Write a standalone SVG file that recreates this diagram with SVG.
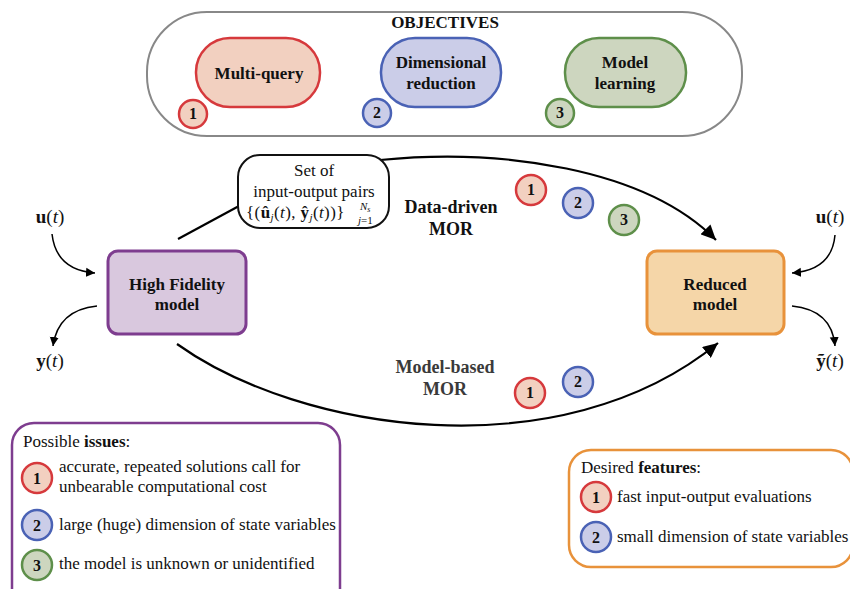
<svg xmlns="http://www.w3.org/2000/svg" width="850" height="589" viewBox="0 0 850 589" font-family="'Liberation Serif', 'DejaVu Serif', serif">
<style>
text{font-family:'Liberation Serif','DejaVu Serif',serif;fill:#111}
.b{font-weight:bold}
.lbl{font-size:17px;font-weight:bold;text-anchor:middle}
.mor{font-size:18px;font-weight:bold;text-anchor:middle}
.num{font-size:16px;font-weight:bold;text-anchor:middle}
.body{font-size:17px}
.conn{fill:none;stroke:#000;stroke-width:2.2}
.small{fill:none;stroke:#000;stroke-width:1.5}
.red{fill:#f2d0c0;stroke:#d6393c;stroke-width:2.5}
.blue{fill:#cbcde8;stroke:#4a62b5;stroke-width:2.5}
.green{fill:#cdd6bf;stroke:#5e8f4a;stroke-width:2.5}
.math{font-size:19px}
</style>
<defs>
<marker id="ah" markerUnits="userSpaceOnUse" markerWidth="16" markerHeight="14" refX="15" refY="7" orient="auto">
<path d="M0,0 L15,7 L0,14 Z" fill="#000"/>
</marker>
<marker id="sh" markerUnits="userSpaceOnUse" markerWidth="10" markerHeight="10" refX="9" refY="5" orient="auto">
<path d="M0,0.5 L9,5 L0,9.5 Z" fill="#000"/>
</marker>
</defs>

<g id="objectives">
<rect x="147" y="12" width="595" height="124" rx="60" fill="#fff" stroke="#888" stroke-width="2"/>
<text x="445" y="28" class="b" font-size="17" text-anchor="middle">OBJECTIVES</text>
</g>
<g id="obj-multiquery">
<rect x="196" y="38" width="124" height="69" rx="34" class="red"/>
<text x="259" y="79" class="lbl">Multi-query</text>
<circle cx="193" cy="114" r="14" class="red"/>
<text x="193" y="119" class="num">1</text>
</g>
<g id="obj-dimred">
<rect x="381" y="38" width="120" height="69" rx="34" class="blue"/>
<text x="441" y="68" class="lbl">Dimensional</text>
<text x="441" y="89" class="lbl">reduction</text>
<circle cx="377" cy="113" r="14" class="blue"/>
<text x="377" y="118" class="num">2</text>
</g>
<g id="obj-learning">
<rect x="565" y="38" width="121" height="69" rx="34" class="green"/>
<text x="625" y="68" class="lbl">Model</text>
<text x="625" y="89" class="lbl">learning</text>
<circle cx="560" cy="113" r="14" class="green"/>
<text x="560" y="118" class="num">3</text>
</g>

<g id="connectors">
<line x1="178" y1="239" x2="239" y2="206" class="conn"/>
<path d="M380,160 C500,148 645,168 716,240" class="conn" marker-end="url(#ah)"/>
<path d="M177,344 C300,432 560,472 718,343" class="conn" marker-end="url(#ah)"/>
<path d="M52,234 Q56,270 95,273" class="small" marker-end="url(#sh)"/>
<path d="M97,306 Q58,310 53,346" class="small" marker-end="url(#sh)"/>
<path d="M835,235 Q832,270 792,273" class="small" marker-end="url(#sh)"/>
<path d="M792,306 Q832,310 835,346" class="small" marker-end="url(#sh)"/>
</g>

<g id="set-of-pairs">
<rect x="238" y="155" width="151" height="73" rx="22" fill="#fff" stroke="#111" stroke-width="2"/>
<text x="314" y="176" font-size="17" text-anchor="middle">Set of</text>
<text x="314" y="197" font-size="17" text-anchor="middle">input-output pairs</text>
<text x="246" y="218" font-size="17" letter-spacing="0.4">{(<tspan class="b">û</tspan><tspan font-size="11" font-style="italic" dy="3">j</tspan><tspan dy="-3">(</tspan><tspan font-style="italic">t</tspan>), <tspan class="b">ŷ</tspan><tspan font-size="11" font-style="italic" dy="3">j</tspan><tspan dy="-3">(</tspan><tspan font-style="italic">t</tspan>))}</text>
<text x="360" y="210" font-size="11" font-style="italic">N<tspan font-size="8" dy="2">s</tspan></text>
<text x="358" y="224" font-size="11"><tspan font-style="italic">j</tspan>=1</text>
</g>

<g id="high-fidelity">
<rect x="108" y="251" width="138" height="83" rx="10" fill="#d9c8de" stroke="#7e3d8f" stroke-width="3"/>
<text x="177" y="290" class="lbl">High Fidelity</text>
<text x="177" y="310" class="lbl">model</text>
</g>

<g id="reduced">
<rect x="647" y="251" width="137" height="83" rx="10" fill="#f5d6a8" stroke="#e8923b" stroke-width="3"/>
<text x="715" y="290" class="lbl">Reduced</text>
<text x="715" y="310" class="lbl">model</text>
</g>

<g id="signals">
<text x="50" y="223" class="math" text-anchor="middle"><tspan class="b">u</tspan>(<tspan font-style="italic">t</tspan>)</text>
<text x="50" y="367" class="math" text-anchor="middle"><tspan class="b">y</tspan>(<tspan font-style="italic">t</tspan>)</text>
<text x="830" y="223" class="math" text-anchor="middle"><tspan class="b">u</tspan>(<tspan font-style="italic">t</tspan>)</text>
<text x="830" y="367" class="math" text-anchor="middle"><tspan class="b">ỹ</tspan>(<tspan font-style="italic">t</tspan>)</text>
</g>

<g id="data-driven-label">
<text x="451" y="213" class="mor">Data-driven</text>
<text x="451" y="235" class="mor">MOR</text>
<circle cx="531" cy="190" r="15" class="red"/>
<text x="531" y="195" class="num">1</text>
<circle cx="578" cy="203" r="15" class="blue"/>
<text x="578" y="208" class="num">2</text>
<circle cx="624" cy="220" r="15" class="green"/>
<text x="624" y="225" class="num">3</text>
</g>

<g id="model-based-label">
<text x="445" y="373" class="mor" style="fill:#3a3a3a">Model-based</text>
<text x="445" y="395" class="mor" style="fill:#3a3a3a">MOR</text>
<circle cx="530" cy="393" r="15" class="red"/>
<text x="530" y="398" class="num">1</text>
<circle cx="578" cy="382" r="15" class="blue"/>
<text x="578" y="387" class="num">2</text>
</g>

<g id="issues">
<rect x="12" y="423" width="328" height="190" rx="22" fill="#fff" stroke="#7e3d8f" stroke-width="2.5"/>
<text x="23" y="447" class="body">Possible <tspan class="b">issues</tspan>:</text>
<circle cx="37" cy="478" r="15" class="red"/>
<text x="37" y="484" class="num">1</text>
<text x="59" y="472" class="body">accurate, repeated solutions call for</text>
<text x="59" y="492" class="body">unbearable computational cost</text>
<circle cx="37" cy="525" r="15" class="blue"/>
<text x="37" y="531" class="num">2</text>
<text x="59" y="530" class="body">large (huge) dimension of state variables</text>
<circle cx="37" cy="565" r="15" class="green"/>
<text x="37" y="571" class="num">3</text>
<text x="59" y="569" class="body">the model is unknown or unidentified</text>
</g>

<g id="features">
<rect x="569" y="450" width="284" height="117" rx="22" fill="#fff" stroke="#e8923b" stroke-width="2.5"/>
<text x="581" y="473" class="body">Desired <tspan class="b">features</tspan>:</text>
<circle cx="596" cy="497" r="15" class="red"/>
<text x="596" y="503" class="num">1</text>
<text x="617" y="502" class="body">fast input-output evaluations</text>
<circle cx="596" cy="537" r="15" class="blue"/>
<text x="596" y="543" class="num">2</text>
<text x="617" y="542" class="body">small dimension of state variables</text>
</g>
</svg>
